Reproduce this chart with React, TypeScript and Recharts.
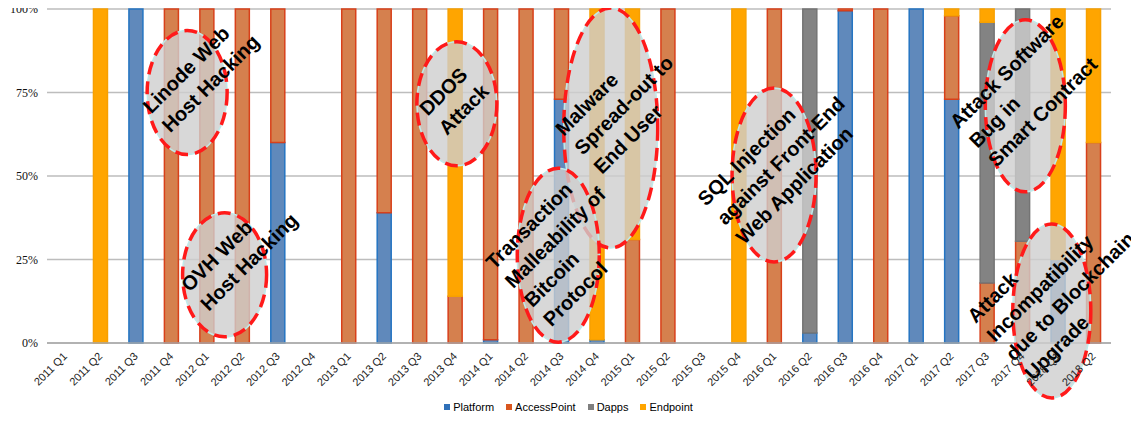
import React from "react";
import {
  BarChart,
  Bar,
  XAxis,
  YAxis,
  CartesianGrid,
  Legend,
  ReferenceDot,
} from "recharts";

const quarters = [
  "2011 Q1", "2011 Q2", "2011 Q3", "2011 Q4",
  "2012 Q1", "2012 Q2", "2012 Q3", "2012 Q4",
  "2013 Q1", "2013 Q2", "2013 Q3", "2013 Q4",
  "2014 Q1", "2014 Q2", "2014 Q3", "2014 Q4",
  "2015 Q1", "2015 Q2", "2015 Q3", "2015 Q4",
  "2016 Q1", "2016 Q2", "2016 Q3", "2016 Q4",
  "2017 Q1", "2017 Q2", "2017 Q3", "2017 Q4",
  "2018 Q1", "2018 Q2",
];

// shares in percent, bottom to top: Platform, AccessPoint, Dapps, Endpoint
const platform = [0, 0, 100, 0, 0, 0, 60, 0, 0, 39, 0, 0, 1, 0, 73, 1, 0, 0, 0, 0, 0, 3, 99.5, 0, 100, 73, 0, 0, 25, 0];
const accessPoint = [0, 0, 0, 100, 100, 100, 40, 0, 100, 61, 100, 14, 99, 100, 27, 0, 31, 100, 0, 0, 100, 0, 0.5, 100, 0, 25, 18, 30.5, 0, 60];
const dapps = [0, 0, 0, 0, 0, 0, 0, 0, 0, 0, 0, 0, 0, 0, 0, 0, 0, 0, 0, 0, 0, 97, 0, 0, 0, 0, 78, 69.5, 0, 0];
const endpoint = [0, 100, 0, 0, 0, 0, 0, 0, 0, 0, 0, 86, 0, 0, 0, 99, 69, 0, 0, 100, 0, 0, 0, 0, 0, 2, 4, 0, 75, 40];

const yTicks = [0, 25, 50, 75, 100];

const seriesNames = ["Platform", "AccessPoint", "Dapps", "Endpoint"];
const seriesFill = ["#6089bb", "#d5804e", "#838383", "#ffa500"];
const seriesStroke = ["#2474c2", "#d8401a", "#747474", "#f7a000"];
const legendFill = ["#2f70b8", "#d9561f", "#7f7f7f", "#ffa500"];

const data = quarters.map((q, i) => ({
  name: q,
  Platform: platform[i],
  AccessPoint: accessPoint[i],
  Dapps: dapps[i],
  Endpoint: endpoint[i],
}));

// callouts drawn over the bars, anchored to a quarter and a share value;
// dx shifts the ellipse sideways, sx/sy place the start of the first text line
const annotations = [
  { x: "2011 Q4", y: 75, dx: 16, rx: 40, ry: 62, sx: -36, sy: 22, lines: ["Linode Web", "Host Hacking"] },
  { x: "2012 Q1", y: 20.4, dx: 18, rx: 42, ry: 62, sx: -35, sy: 18, lines: ["OVH Web", "Host Hacking"] },
  { x: "2013 Q4", y: 71.6, dx: 2, rx: 40, ry: 62, sx: -29, sy: 13, lines: ["DDOS", "Attack"] },
  { x: "2014 Q4", y: 64.4, dx: 14, rx: 47, ry: 120, sx: -47, sy: 9, lines: ["Malware", "Spread-out to", "End User"] },
  { x: "2014 Q3", y: 26.3, dx: -3, rx: 41, ry: 87, sx: -64, sy: 15, lines: ["Transaction", "Malleability of", "Bitcoin", "Protocol"] },
  { x: "2016 Q1", y: 50.3, dx: 0, rx: 42, ry: 87, sx: -68, sy: 32, lines: ["SQL Injection", "against Front-End", "Web Application"] },
  { x: "2017 Q4", y: 71, dx: 3, rx: 40, ry: 86, sx: -67, sy: 24, lines: ["Attack Software", "Bug in", "Smart Contract"] },
  { x: "2018 Q1", y: 9.6, dx: -6, rx: 39, ry: 87, sx: -76, sy: 13, lines: ["Attack", "Incompatibility", "due to Blockchain", "Upgrade"] },
];

const W = 1139;
const H = 421;

const Callout = (props: any) => {
  const { cx, cy, a } = props;
  if (cx == null || cy == null) return null;
  const ex = cx + a.dx;
  const ey = cy;
  const tx = ex + a.sx;
  const ty = ey + a.sy;
  const lh = 27;
  return (
    <g>
      <ellipse cx={ex} cy={ey} rx={a.rx} ry={a.ry} fill="rgba(206,206,206,0.8)" stroke="#bfeaea" strokeWidth={1.5} />
      <ellipse cx={ex} cy={ey} rx={a.rx} ry={a.ry} fill="none" stroke="#ff1a1a" strokeWidth={3.5} strokeDasharray="13 7" />
      <text
        transform={`rotate(-45 ${tx} ${ty})`}
        textAnchor="start"
        fontFamily="'Liberation Sans', Arial, sans-serif"
        fontWeight="bold"
        fontSize={20}
        fill="#000"
      >
        {a.lines.map((l: string, i: number) => (
          <tspan key={i} x={tx} y={ty + i * lh}>
            {l}
          </tspan>
        ))}
      </text>
    </g>
  );
};

const QuarterTick = (props: any) => {
  const { x, y, payload } = props;
  const tx = x + 3;
  const ty = y + 6;
  return (
    <text
      x={tx}
      y={ty}
      transform={`rotate(-45 ${tx} ${ty})`}
      textAnchor="end"
      fontFamily="'Liberation Sans', Arial, sans-serif"
      fontSize={11}
      fill="#222"
    >
      {payload.value}
    </text>
  );
};

const SeriesLegend = () => (
  <div
    style={{
      height: 16,
      lineHeight: "16px",
      display: "flex",
      justifyContent: "center",
      alignItems: "center",
      paddingLeft: 38,
      fontFamily: "'Liberation Sans', Arial, sans-serif",
      fontSize: 11,
      color: "#000",
    }}
  >
    {seriesNames.map((s, i) => (
      <span key={s} style={{ display: "inline-flex", alignItems: "center", marginRight: 12 }}>
        <span style={{ width: 6, height: 6, background: legendFill[i], marginRight: 3, display: "inline-block" }} />
        {s}
      </span>
    ))}
  </div>
);

export default function App() {
  return (
    <div style={{ margin: -8, width: W, height: H, background: "#fff" }}>
      <BarChart
        width={W}
        height={H}
        data={data}
        margin={{ top: 9, right: 28, bottom: 4, left: 0 }}
        barSize={14}
      >
        <CartesianGrid vertical={false} stroke="#bdbdbd" strokeWidth={1.3} />
        <XAxis
          dataKey="name"
          interval={0}
          height={58}
          tickLine={false}
          axisLine={{ stroke: "#a8a8a8", strokeWidth: 1.5 }}
          tick={<QuarterTick />}
        />
        <YAxis
          width={47}
          domain={[0, 100]}
          ticks={yTicks}
          tickFormatter={(v: number) => `${v}%`}
          tickLine={false}
          tickSize={0}
          tickMargin={9}
          axisLine={false}
          tick={{ fontFamily: "'Liberation Serif', serif", fontSize: 12, fill: "#111" }}
        />
        <Legend
          verticalAlign="bottom"
          content={<SeriesLegend />}
          wrapperStyle={{ top: 399, bottom: "auto" }}
        />
        {seriesNames.map((s, i) => (
          <Bar
            key={s}
            dataKey={s}
            stackId="s"
            fill={seriesFill[i]}
            stroke={seriesStroke[i]}
            strokeWidth={1.5}
            isAnimationActive={false}
          />
        ))}
        {annotations.map((a, i) => (
          <ReferenceDot
            key={i}
            x={a.x}
            y={a.y}
            r={1}
            ifOverflow="visible"
            shape={(p: any) => <Callout {...p} a={a} />}
          />
        ))}
      </BarChart>
    </div>
  );
}
